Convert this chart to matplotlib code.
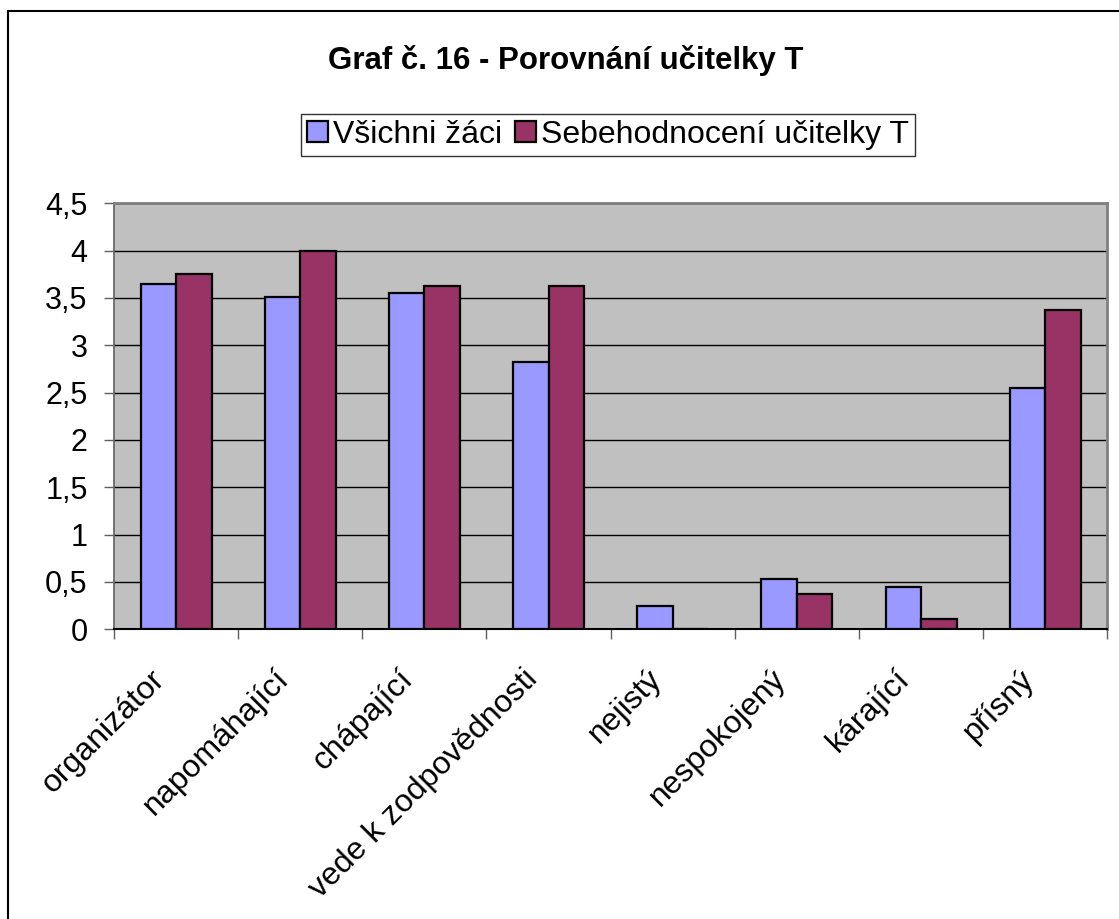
import numpy as np
import matplotlib
matplotlib.use("Agg")
import matplotlib.pyplot as plt
from matplotlib.patches import Rectangle
from matplotlib.ticker import FixedLocator, FuncFormatter
from matplotlib.transforms import ScaledTranslation

plt.rcParams['font.family'] = ['Liberation Sans', 'DejaVu Sans']

# Data
categories = ['organizátor', 'napomáhající', 'chápající', 'vede k zodpovědnosti',
              'nejistý', 'nespokojený', 'kárající', 'přísný']
vsichni_zaci = [3.65, 3.51, 3.55, 2.82, 0.25, 0.53, 0.45, 2.55]
sebehodnoceni = [3.75, 4.0, 3.625, 3.625, 0.0, 0.375, 0.11, 3.375]
series_names = ['Všichni žáci', 'Sebehodnocení učitelky T']
y_ticks = [0, 0.5, 1, 1.5, 2, 2.5, 3, 3.5, 4, 4.5]

W, H = 1119, 919
fig = plt.figure(figsize=(W / 100, H / 100), dpi=100)

# chart-area border (only top and left edges are visible in the original)
fig.add_artist(Rectangle((8 / W, -0.05), 1.2, 1 - 11 / H + 0.05,
                         transform=fig.transFigure, fill=False,
                         edgecolor='black', linewidth=1.5))

ax = fig.add_axes([114 / W, (H - 629.3) / H, (1107.3 - 114) / W, (629.3 - 203.3) / H])
ax.set_facecolor('#C0C0C0')

x = np.arange(len(categories))
bw = 1 / 3.5
ax.bar(x - bw / 2, vsichni_zaci, width=bw, color='#9999FF', edgecolor='black',
       linewidth=1.6, label=series_names[0], zorder=3)
ax.bar(x + bw / 2, sebehodnoceni, width=bw, color='#993366', edgecolor='black',
       linewidth=1.6, label=series_names[1], zorder=3)

ax.set_xlim(-0.5, len(categories) - 0.5)
ax.set_ylim(0, 4.5)

ax.set_yticks(y_ticks)
ax.yaxis.set_major_formatter(FuncFormatter(lambda v, p: ('%g' % v).replace('.', ',')))
ax.yaxis.grid(True, color='black', linewidth=1.0, zorder=1)
ax.tick_params(axis='y', direction='out', length=7, width=1, color='#606060',
               labelsize=22, pad=12)

# category labels at centres, tick marks at boundaries
ax.set_xticks(x)
ax.set_xticklabels(categories, rotation=45, ha='right', rotation_mode='anchor')
ax.tick_params(axis='x', which='major', length=0, labelsize=23, pad=20)
shift = ScaledTranslation(-26 / 100, -7 / 100, fig.dpi_scale_trans)
for lbl in ax.get_xticklabels():
    lbl.set_transform(lbl.get_transform() + shift)
ax.xaxis.set_minor_locator(FixedLocator(np.arange(len(categories) + 1) - 0.5))
ax.tick_params(axis='x', which='minor', direction='out', length=7, width=1, color='#606060')

for side in ['top', 'right']:
    ax.spines[side].set_color('#808080')
    ax.spines[side].set_linewidth(2)
ax.spines['left'].set_color('#606060')
ax.spines['bottom'].set_color('black')
ax.spines['left'].set_linewidth(1.2)
ax.spines['bottom'].set_linewidth(1.5)

fig.text(566 / W, 1 - 60 / H, 'Graf č. 16 - Porovnání učitelky T', ha='center', va='center',
         fontsize=22.5, fontweight='bold')

leg = fig.legend(loc='center', bbox_to_anchor=(608 / W, 1 - 135 / H), ncol=2,
                 fontsize=23, frameon=True, fancybox=False, handlelength=0.65,
                 handleheight=0.65, handletextpad=0.15, columnspacing=0.4,
                 borderpad=0.2, borderaxespad=0)
leg.get_frame().set_edgecolor('black')
leg.get_frame().set_linewidth(1.0)

fig.savefig('out.png', dpi=100)
